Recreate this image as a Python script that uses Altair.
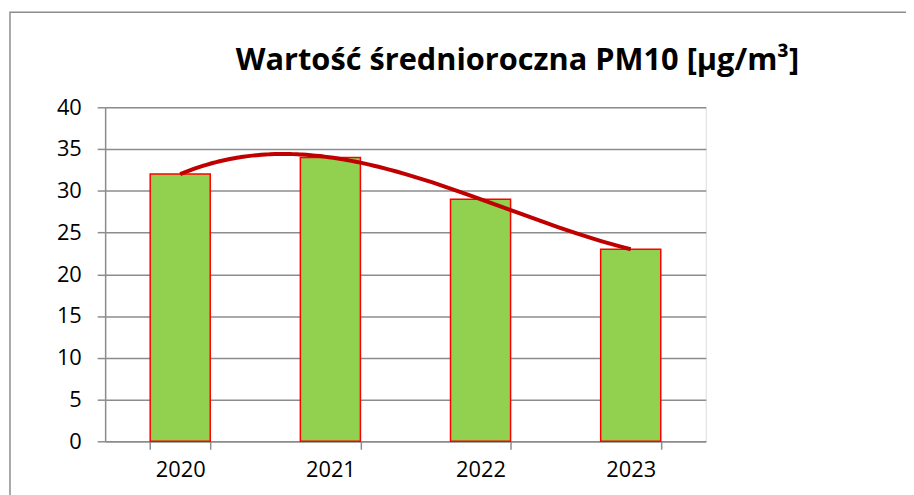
import altair as alt
import pandas as pd

years = ["2020", "2021", "2022", "2023"]
year_num = [2020, 2021, 2022, 2023]
values = [32, 34, 29, 23]
y_ticks = [0, 5, 10, 15, 20, 25, 30, 35, 40]
title_text = "Wartość średnioroczna PM10 [µg/m³]"

df = pd.DataFrame({"rok": years, "rok_num": year_num, "wartosc": values})
FONT = "Open Sans"
GRID = "#8c8c8c"

y_enc = alt.Y(
    "wartosc:Q",
    scale=alt.Scale(domain=[0, 40], nice=False),
    axis=alt.Axis(
        values=y_ticks, title=None, grid=True, gridColor=GRID, gridWidth=1.5,
        domainColor=GRID, domainWidth=1.5, tickColor=GRID, tickWidth=1.5,
        tickSize=8, labelPadding=16, labelFont=FONT, labelFontSize=22,
        labelColor="#000000",
    ),
)

bars = alt.Chart(df).mark_bar(
    color="#92D050", stroke="#FF0000", strokeWidth=1.5
).encode(
    x=alt.X(
        "rok:O",
        scale=alt.Scale(paddingInner=0.6, paddingOuter=0.3),
        axis=alt.Axis(
            title=None, labelAngle=0, tickBand="extent", domainColor=GRID,
            domainWidth=1.5, tickColor=GRID, tickWidth=1.5, tickSize=8,
            labelPadding=11, labelFont=FONT, labelFontSize=22, labelColor="#000000",
        ),
    ),
    y=y_enc,
)

trend = alt.Chart(df).transform_regression(
    "rok_num", "wartosc", method="poly", order=3
).mark_line(color="#C00000", strokeWidth=4).encode(
    x=alt.X("rok_num:Q", scale=alt.Scale(domain=[2019.5, 2023.5], nice=False, zero=False), axis=None),
    y=alt.Y("wartosc:Q", scale=alt.Scale(domain=[0, 40], nice=False)),
)

one = pd.DataFrame({"t": [title_text]})

frame = alt.Chart(one).mark_rect(
    fill=None, stroke="#8c8c8c", strokeWidth=1.5
).encode(
    x=alt.value(-96), y=alt.value(-96), x2=alt.value(900), y2=alt.value(600)
)

title = alt.Chart(one).mark_text(
    font=FONT, fontSize=31, fontWeight="bold", color="#000000",
    align="center", baseline="alphabetic",
).encode(text="t:N", x=alt.value(416), y=alt.value(-38))

chart = alt.layer(frame, bars, trend, title).resolve_scale(x="independent").properties(
    width=606,
    height=337,
    autosize=alt.AutoSizeParams(type="none"),
    padding={"left": 98, "top": 98, "right": 202, "bottom": 52},
).configure_view(stroke=None).configure(background="white")

chart.save("out.html", embed_options={"renderer": "svg", "actions": False})
